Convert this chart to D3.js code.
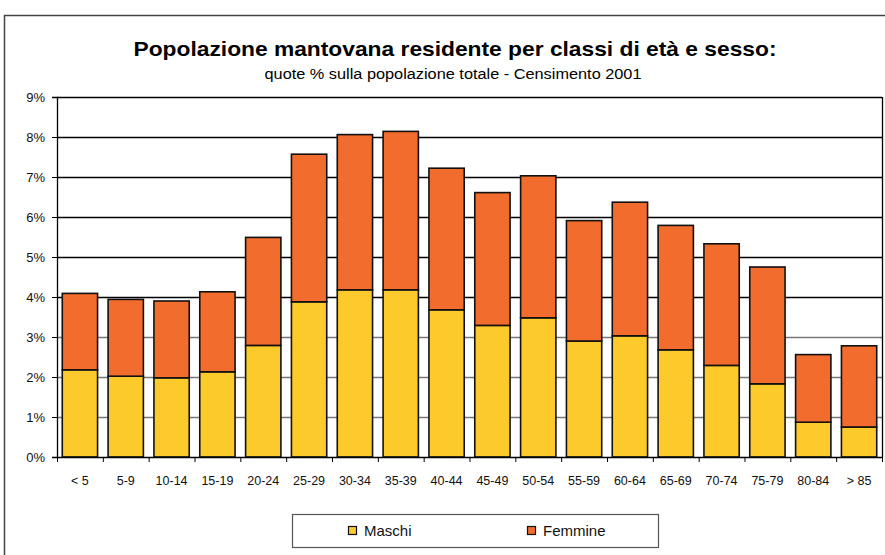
<!DOCTYPE html>
<html>
<head>
<meta charset="utf-8">
<script src="https://cdn.jsdelivr.net/npm/d3@7"></script>
<style>
  body { margin: 0; background: #fff; }
  svg { display: block; font-family: "Liberation Sans", Arial, sans-serif; }
</style>
</head>
<body>
<div class="chart"></div>
<script>
// age classes
var classi = ["< 5", "5-9", "10-14", "15-19", "20-24", "25-29", "30-34", "35-39", "40-44",
  "45-49", "50-54", "55-59", "60-64", "65-69", "70-74", "75-79", "80-84", "> 85"];

// % shares
var maschi = [2.18, 2.02, 1.98, 2.13, 2.79, 3.88, 4.18, 4.18, 3.68,
  3.29, 3.48, 2.90, 3.03, 2.68, 2.29, 1.83, 0.87, 0.75];
var femmine = [1.91, 1.92, 1.92, 2.00, 2.70, 3.69, 3.88, 3.96, 3.54,
  3.32, 3.55, 3.01, 3.34, 3.11, 3.04, 2.92, 1.69, 2.03];

var yTicks = [0, 1, 2, 3, 4, 5, 6, 7, 8, 9];
var serie = ["Maschi", "Femmine"];
var colori = ["#fdca2b", "#f26c2d"];

var W = 885, H = 555;
var margin = { top: 97, right: 3, bottom: 98, left: 57 },
  width = W - margin.left - margin.right,
  height = H - margin.top - margin.bottom;

var root = d3.select(".chart")
  .append("svg")
  .attr("width", W)
  .attr("height", H);

// outer frame
root.append("rect")
  .attr("x", 4.5).attr("y", 15.5)
  .attr("width", W + 10).attr("height", H + 10)
  .style("fill", "none")
  .style("stroke", "#444")
  .style("stroke-width", 1.5);

// titles
root.append("text")
  .attr("x", 455).attr("y", 56)
  .attr("text-anchor", "middle")
  .attr("textLength", 643)
  .attr("lengthAdjust", "spacingAndGlyphs")
  .style("font-size", "21px")
  .style("font-weight", "bold")
  .text("Popolazione mantovana residente per classi di età e sesso:");

root.append("text")
  .attr("x", 453).attr("y", 79)
  .attr("text-anchor", "middle")
  .attr("textLength", 377)
  .attr("lengthAdjust", "spacingAndGlyphs")
  .style("font-size", "14px")
  .text("quote % sulla popolazione totale - Censimento 2001");

var svg = root.append("g")
  .attr("transform", "translate(" + margin.left + "," + margin.top + ")");

var x = d3.scaleBand()
  .domain(classi)
  .range([0, width])
  .padding(0);

var y = d3.scaleLinear()
  .domain([0, 9])
  .range([height, 0]);

// gridlines
svg.selectAll(".grid")
  .data(yTicks.slice(1))
  .enter().append("line")
  .attr("x1", 0).attr("x2", width)
  .attr("y1", function (d) { return y(d) + 0.5; })
  .attr("y2", function (d) { return y(d) + 0.5; })
  .style("stroke", function (d) { return d <= 3 ? "#777" : "#000"; })
  .style("stroke-width", 1.3);

// stacked data
var dati = classi.map(function (c, i) {
  return { classe: c, Maschi: maschi[i], Femmine: femmine[i] };
});
var stack = d3.stack().keys(serie)(dati);

var barW = x.bandwidth() * 0.77;
var off = (x.bandwidth() - barW) / 2;

svg.selectAll(".serie")
  .data(stack)
  .enter().append("g")
  .style("fill", function (d, i) { return colori[i]; })
  .selectAll("rect")
  .data(function (d) { return d; })
  .enter().append("rect")
  .attr("x", function (d) { return x(d.data.classe) + off; })
  .attr("y", function (d) { return y(d[1]); })
  .attr("width", barW)
  .attr("height", function (d) { return y(d[0]) - y(d[1]); })
  .style("stroke", "#111")
  .style("stroke-width", 1.6);

// right edge of plot area
svg.append("line")
  .attr("x1", width + 0.5).attr("x2", width + 0.5)
  .attr("y1", 0).attr("y2", height)
  .style("stroke", "#000").style("stroke-width", 1.3);

// y axis
var yAxis = d3.axisLeft(y)
  .tickValues(yTicks)
  .tickSize(5)
  .tickPadding(7)
  .tickFormat(function (d) { return d + "%"; });

var gy = svg.append("g").call(yAxis);
gy.select(".domain").style("stroke", "#000").style("stroke-width", 1.3);
gy.selectAll(".tick line").style("stroke", "#000");
gy.selectAll("text")
  .style("font-size", "13px")
  .style("fill", "#111")
  .style("font-family", "'Liberation Sans', Arial, sans-serif");

// x axis, ticks between the classes
var gx = svg.append("g")
  .attr("transform", "translate(0," + height + ")");

gx.append("line")
  .attr("x1", 0).attr("x2", width)
  .attr("y1", 0.5).attr("y2", 0.5)
  .style("stroke", "#000").style("stroke-width", 1.3);

gx.selectAll(".tk")
  .data(classi.concat(["fine"]))
  .enter().append("line")
  .attr("x1", function (d, i) { return i * x.step() + 0.5; })
  .attr("x2", function (d, i) { return i * x.step() + 0.5; })
  .attr("y1", 0).attr("y2", 5)
  .style("stroke", "#000");

gx.selectAll(".lab")
  .data(classi)
  .enter().append("text")
  .attr("x", function (d) { return x(d) + x.bandwidth() / 2; })
  .attr("y", 28)
  .attr("text-anchor", "middle")
  .style("font-size", "12.5px")
  .style("fill", "#111")
  .text(function (d) { return d; });

// legend
var leg = root.append("g").attr("transform", "translate(292,514)");
leg.append("rect")
  .attr("x", 0.5).attr("y", 0.5)
  .attr("width", 366).attr("height", 33)
  .style("fill", "#fff")
  .style("stroke", "#555")
  .style("stroke-width", 1.2);

var legX = [56, 235];
serie.forEach(function (s, i) {
  leg.append("rect")
    .attr("x", legX[i] + 0.5).attr("y", 12.5)
    .attr("width", 8).attr("height", 8)
    .style("fill", colori[i])
    .style("stroke", "#111")
    .style("stroke-width", 1.2);
  leg.append("text")
    .attr("x", legX[i] + 16).attr("y", 22)
    .style("font-size", "15px")
    .style("fill", "#111")
    .text(s);
});
</script>
</body>
</html>
